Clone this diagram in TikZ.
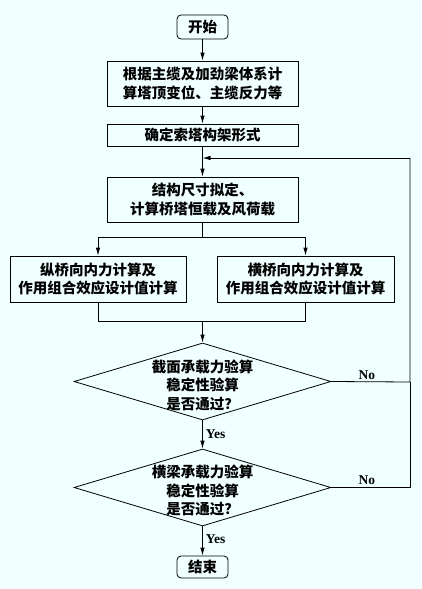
\documentclass[tikz,border=0pt]{standalone}
\usepackage{fontspec}
\newfontfamily\cjk{Noto Sans CJK SC}
\setmainfont{Liberation Serif}
\usetikzlibrary{shapes.geometric,arrows.meta}
\definecolor{bgc}{RGB}{240,255,255}
\begin{document}
\begin{tikzpicture}[x=1pt,y=-1pt,
  every node/.style={font=\cjk\bfseries\fontsize{14.5}{18.5}\selectfont, align=center, inner sep=0pt},
  box/.style={draw, line width=0.8pt, rectangle},
  term/.style={draw, line width=0.8pt, rectangle, rounded corners=4pt},
  dia/.style={draw, line width=0.8pt, diamond, minimum width=257pt, minimum height=77pt},
  lab/.style={font=\bfseries\fontsize{13.5}{15}\selectfont},
  conn/.style={line width=0.8pt},
  arr/.style={conn, -{Latex[length=8pt,width=4.5pt]}}
]
\fill[bgc] (0,0) rectangle (422,589);
\useasboundingbox (0,0) rectangle (422,589);

\node[term, minimum width=51pt, minimum height=24pt] (start) at (202.5,27) {开始};
\node[box, minimum width=191pt, minimum height=45pt] (b1) at (202.5,83.5) {根据主缆及加劲梁体系计\\算塔顶变位、主缆反力等};
\node[box, minimum width=191pt, minimum height=22pt] (b2) at (202.5,135) {确定索塔构架形式};
\node[box, minimum width=191pt, minimum height=45pt] (b3) at (202.5,199.5) {结构尺寸拟定、\\计算桥塔恒载及风荷载};
\node[box, minimum width=176pt, minimum height=46pt] (bl) at (98,279) {纵桥向内力计算及\\作用组合效应设计值计算};
\node[box, minimum width=177pt, minimum height=46pt] (br) at (305.5,279) {横桥向内力计算及\\作用组合效应设计值计算};
\node[dia] (d1) at (202.5,381.5) {};
\node (t1) at (202.5,385) {截面承载力验算\\稳定性验算\\是否通过？};
\node[dia] (d2) at (202.5,487.5) {};
\node (t2) at (202.5,490.5) {横梁承载力验算\\稳定性验算\\是否通过？};
\node[term, minimum width=51pt, minimum height=22pt] (end) at (202.5,567) {结束};

\coordinate (split) at (202.5,237);
\coordinate (sl) at (98,237);
\coordinate (sr) at (305.5,237);
\coordinate (jl) at (98,321);
\coordinate (jr) at (305.5,321);
\coordinate (jm) at (202.5,321);
\coordinate (loopb) at (410,382);
\coordinate (loopt) at (410,158);
\coordinate (entry) at (202.5,158);

\draw[arr] (start) -- (b1);
\draw[arr] (b1) -- (b2);
\draw[arr] (b2) -- (b3);
\draw[conn] (b3.south) -- (split);
\draw[conn] (sl) -- (sr);
\draw[arr] (sl) -- (bl.north);
\draw[arr] (sr) -- (br.north);
\draw[conn] (bl.south) -- (jl) -- (jr) -- (br.south);
\draw[arr] (jm) -- (d1.north);
\draw[arr] (d1.south) -- node[lab, right=3pt, pos=0.5] {Yes} (d2.north);
\draw[arr] (d2.south) -- node[lab, right=3pt, pos=0.45] {Yes} (end.north);
\draw[conn] (d1.east) -- node[lab, above=2pt, pos=0.45] {No} (loopb) -- (loopt);
\draw[arr] (loopt) -- (entry);
\draw[conn] (d2.east) -- node[lab, above=2pt, pos=0.45] {No} (d2.east -| loopb) -- (loopb);
\end{tikzpicture}
\end{document}
